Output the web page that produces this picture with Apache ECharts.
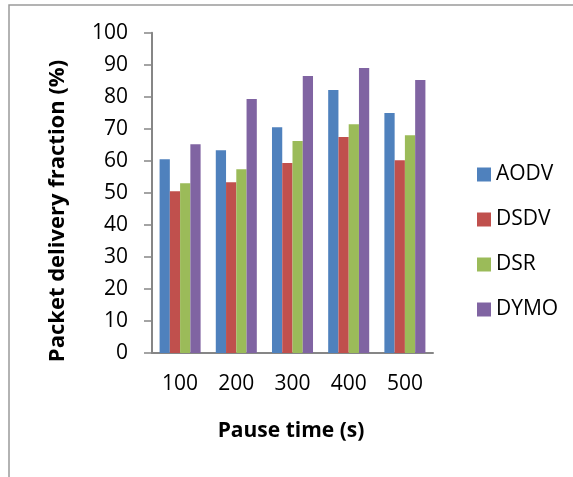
<!DOCTYPE html>
<html>
<head>
<meta charset="utf-8">
<script src="https://cdn.jsdelivr.net/npm/echarts@6/dist/echarts.min.js"></script>
<style>html,body{margin:0;padding:0;background:#fff;}#c{width:573px;height:477px;}</style>
</head>
<body>
<div id="c"></div>
<script>
var categories = ['100', '200', '300', '400', '500'];
var aodv = [60.5, 63.3, 70.5, 82.1, 74.9];
var dsdv = [50.5, 53.3, 59.3, 67.4, 60.2];
var dsr  = [53.0, 57.4, 66.2, 71.4, 68.0];
var dymo = [65.2, 79.3, 86.5, 89.0, 85.2];
var seriesNames = ['AODV', 'DSDV', 'DSR', 'DYMO'];
var yTicks = [0, 10, 20, 30, 40, 50, 60, 70, 80, 90, 100];
var xTitle = 'Pause time (s)';
var yTitle = 'Packet delivery fraction (%)';

var colors = ['#4F81BD', '#C0504D', '#9BBB59', '#8064A2'];
var font = 'Open Sans';
var chart = echarts.init(document.getElementById('c'), null, {renderer: 'canvas'});
var values = [aodv, dsdv, dsr, dymo];
chart.setOption({
  animation: false,
  color: colors,
  textStyle: {fontFamily: font},
  grid: {left: 152, top: 32.7, right: 140, bottom: 124, containLabel: false},
  legend: {
    orient: 'vertical', left: 472, top: 159,
    itemWidth: 14, itemHeight: 14, itemGap: 24,
    icon: 'rect',
    data: seriesNames,
    textStyle: {fontSize: 21, color: '#000', fontFamily: font}
  },
  xAxis: {
    type: 'category', data: categories,
    axisTick: {show: false},
    axisLine: {lineStyle: {color: '#868686', width: 2}},
    axisLabel: {fontSize: 21, color: '#000', margin: 21, fontFamily: font}
  },
  yAxis: {
    type: 'value', min: yTicks[0], max: yTicks[yTicks.length - 1], interval: 10,
    splitLine: {show: false},
    axisLine: {show: true, lineStyle: {color: '#868686', width: 2}},
    axisTick: {show: true, length: 8, lineStyle: {color: '#868686', width: 1.5}},
    axisLabel: {fontSize: 21, color: '#000', margin: 24, fontFamily: font}
  },
  graphic: [
    {type: 'rect', shape: {x: 9, y: 5, width: 700, height: 600}, style: {fill: 'none', stroke: '#9a9a9a', lineWidth: 1.5}, silent: true},
    {type: 'text', x: 291, y: 431, style: {text: xTitle, font: 'bold 21px "Open Sans"', fill: '#000', textAlign: 'center', textVerticalAlign: 'middle'}},
    {type: 'text', x: 58, y: 211, rotation: Math.PI / 2, style: {text: yTitle, font: 'bold 22px "Open Sans"', fill: '#000', textAlign: 'center', textVerticalAlign: 'middle'}}
  ],
  series: seriesNames.map(function (n, i) {
    return {name: n, type: 'bar', data: values[i], barGap: '0%', barCategoryGap: '27%'};
  })
});
</script>
</body>
</html>
